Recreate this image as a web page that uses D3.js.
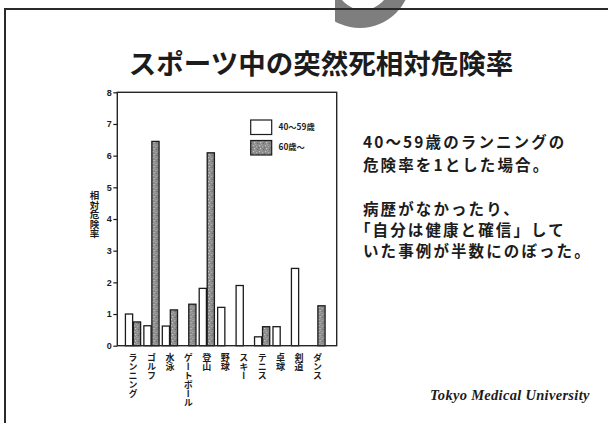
<!DOCTYPE html>
<html>
<head>
<meta charset="utf-8">
<script src="https://cdn.jsdelivr.net/npm/d3@7"></script>
<style>
  html, body { margin: 0; padding: 0; background: #fff; }
  svg { display: block; }
  .jp { font-family: "Noto Sans CJK JP", "Noto Sans", sans-serif; }
</style>
</head>
<body>
<svg id="slide" width="608" height="423"></svg>
<script>
// Relative risk of sudden death during sports (40–59 running = 1)
const categories = ["ランニング", "ゴルフ", "水泳", "ゲートボール", "登山", "野球", "スキー", "テニス", "卓球", "剣道", "ダンス"];
const age40to59 = [1.0, 0.63, 0.62, null, 1.81, 1.21, 1.9, 0.28, 0.6, 2.44, null];
const age60plus = [0.75, 6.45, 1.13, 1.31, 6.09, null, null, 0.6, null, null, 1.26];
const seriesKeys = ["young", "old"];
const seriesNames = ["40～59歳", "60歳～"];
const yTicks = [0, 1, 2, 3, 4, 5, 6, 7, 8];
const titleText = "スポーツ中の突然死相対危険率";
const yAxisTitle = "相対危険率";
const noteParagraph1 = ["40～59歳のランニングの", "危険率を1とした場合。"];
const noteParagraph2 = ["病歴がなかったり、", "「自分は健康と確信」して", "いた事例が半数にのぼった。"];
const footerText = "Tokyo Medical University";

const svg = d3.select("#slide");
const ink = "#1c1c1c";

// ---- stippled fill used for the 60+ bars ----
const defs = svg.append("defs");
const pat = defs.append("pattern")
  .attr("id", "stipple").attr("patternUnits", "userSpaceOnUse")
  .attr("width", 6).attr("height", 6);
pat.append("rect").attr("width", 6).attr("height", 6).attr("fill", "#8a8a8a");
[[1, 1, "#c4c4c4"], [4, 2, "#b0b0b0"], [2, 4, "#d0d0d0"], [5, 5, "#6a6a6a"], [0, 3, "#707070"], [3, 0, "#a8a8a8"]]
  .forEach(([x, y, c]) => pat.append("rect").attr("x", x).attr("y", y).attr("width", 1.2).attr("height", 1.2).attr("fill", c));

// ---- slide frame and header ornament ----
defs.append("clipPath").attr("id", "ornClip")
  .append("rect").attr("x", 335).attr("y", 0).attr("width", 100).attr("height", 40);
svg.append("path")
  .attr("clip-path", "url(#ornClip)")
  .attr("fill", "#7e7e7e")
  .attr("fill-rule", "evenodd")
  .attr("d", () => {
    const ring = d3.path();
    ring.arc(360, -23, 51, 0, 2 * Math.PI);
    ring.moveTo(363 + 27, -17);
    ring.arc(363, -17, 27, 0, 2 * Math.PI);
    return ring.toString();
  });

svg.append("path")
  .attr("d", "M5,423 L5,9 L608,9")
  .attr("fill", "none").attr("stroke", "#2a2a2a").attr("stroke-width", 2);

svg.append("text").attr("class", "jp")
  .attr("x", 321).attr("y", 74)
  .attr("text-anchor", "middle")
  .attr("font-size", 27.5).attr("font-weight", 700).attr("fill", ink)
  .text(titleText);

// ---- chart ----
const plot = { left: 117.3, top: 92.3, right: 336.7, bottom: 345.7 };

const x = d3.scaleBand().domain(categories)
  .range([plot.left + 6.5, plot.right - 10]).padding(0);
const xSub = d3.scaleBand().domain(seriesKeys).range([-8, 8]).padding(0);
const y = d3.scaleLinear().domain([0, 8]).range([plot.bottom, plot.top]);

const rows = categories.map((c, i) => ({ cat: c, young: age40to59[i], old: age60plus[i] }));

const g = svg.append("g");

// bars
const groups = g.selectAll("g.cat").data(rows).join("g")
  .attr("class", "cat")
  .attr("transform", d => `translate(${x(d.cat) + x.bandwidth() / 2},0)`);

groups.selectAll("rect").data(d => seriesKeys.filter(k => d[k] != null).map(k => ({ key: k, value: d[k] })))
  .join("rect")
  .attr("x", d => xSub(d.key) + 0.4)
  .attr("width", xSub.bandwidth() - 0.8)
  .attr("y", d => y(d.value))
  .attr("height", d => y(0) - y(d.value))
  .attr("fill", d => d.key === "young" ? "#fff" : "url(#stipple)")
  .attr("stroke", ink).attr("stroke-width", 1.3);

// plot frame
g.append("rect")
  .attr("x", plot.left).attr("y", plot.top)
  .attr("width", plot.right - plot.left).attr("height", plot.bottom - plot.top)
  .attr("fill", "none").attr("stroke", "#262626").attr("stroke-width", 1.4);

// y axis
const yAxis = g.append("g")
  .attr("transform", `translate(${plot.left},0)`)
  .call(d3.axisLeft(y).tickValues(yTicks).tickFormat(d3.format("d")).tickSize(4).tickPadding(1.5));
yAxis.select(".domain").remove();
yAxis.selectAll(".tick line").attr("stroke", ink).attr("stroke-width", 1.2);
yAxis.selectAll(".tick text")
  .attr("fill", ink).attr("font-size", 9).attr("font-weight", 700)
  .attr("font-family", "Liberation Sans, Arial, sans-serif");

// y axis title, written vertically
g.append("text").attr("class", "jp")
  .attr("x", 94.5).attr("y", 191)
  .style("writing-mode", "vertical-rl")
  .attr("font-size", 9.5).attr("font-weight", 700).attr("fill", ink)
  .text(yAxisTitle);

// category labels, written vertically below each group
g.selectAll("text.cat").data(categories).join("text")
  .attr("class", "cat jp")
  .attr("x", d => x(d) + x.bandwidth() / 2)
  .attr("y", 353)
  .style("writing-mode", "vertical-rl")
  .attr("font-size", 9).attr("font-weight", 700).attr("fill", ink)
  .text(d => d);

// legend
const legend = g.append("g");
seriesKeys.forEach((k, i) => {
  const ly = 120 + i * 20.5;
  legend.append("rect")
    .attr("x", 250.7).attr("y", ly).attr("width", 21).attr("height", 14.5)
    .attr("fill", k === "young" ? "#fff" : "url(#stipple)")
    .attr("stroke", ink).attr("stroke-width", 1.2);
  legend.append("text").attr("class", "jp")
    .attr("x", 278.5).attr("y", ly + 7.3)
    .attr("dominant-baseline", "middle")
    .attr("font-size", 8.3).attr("font-weight", 700).attr("fill", ink)
    .text(seriesNames[i]);
});

// ---- side notes ----
const notes = svg.append("g").attr("class", "jp")
  .attr("font-size", 15.5).attr("font-weight", 700).attr("fill", ink)
  .attr("letter-spacing", 2.1);
noteParagraph1.forEach((t, i) => {
  notes.append("text").attr("x", 363).attr("y", 148 + i * 22.5).text(t);
});
noteParagraph2.forEach((t, i) => {
  notes.append("text").attr("x", t.startsWith("「") ? 355 : 363).attr("y", 215 + i * 20.8).text(t);
});

svg.append("text")
  .attr("x", 430).attr("y", 400)
  .attr("font-family", "Liberation Serif, Times New Roman, serif")
  .attr("font-style", "italic").attr("font-weight", 700)
  .attr("font-size", 14.5).attr("letter-spacing", 0.3).attr("fill", ink)
  .text(footerText);
</script>
</body>
</html>
